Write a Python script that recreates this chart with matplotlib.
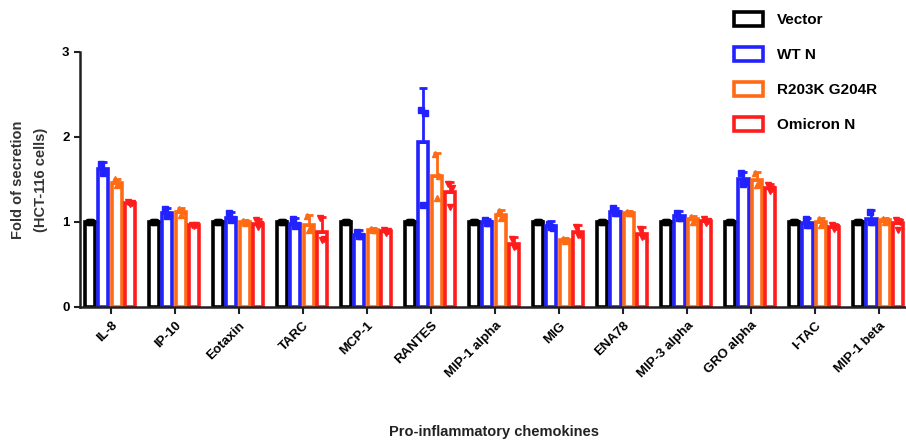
import numpy as np
import matplotlib.pyplot as plt
from matplotlib.patches import Patch

plt.rcParams['font.family'] = ['Liberation Sans', 'DejaVu Sans']
plt.rcParams['font.weight'] = 'bold'

chemokines = ['IL-8', 'IP-10', 'Eotaxin', 'TARC', 'MCP-1', 'RANTES', 'MIP-1 alpha',
              'MIG', 'ENA78', 'MIP-3 alpha', 'GRO alpha', 'I-TAC', 'MIP-1 beta']
groups = ['Vector', 'WT N', 'R203K G204R', 'Omicron N']

# mean fold of secretion per group
vector_mean = [1.0] * 13
wt_mean = [1.62, 1.10, 1.05, 0.98, 0.85, 1.94, 1.00, 0.95, 1.12, 1.07, 1.50, 0.99, 1.04]
mut_mean = [1.46, 1.12, 1.00, 0.97, 0.91, 1.54, 1.08, 0.79, 1.11, 1.03, 1.49, 1.00, 1.02]
omi_mean = [1.22, 0.96, 0.98, 0.88, 0.89, 1.35, 0.74, 0.88, 0.86, 1.01, 1.40, 0.94, 0.99]

# upper SD
vector_sd = [0.0] * 13
wt_sd = [0.08, 0.07, 0.07, 0.07, 0.05, 0.64, 0.04, 0.06, 0.05, 0.06, 0.09, 0.06, 0.10]
mut_sd = [0.05, 0.04, 0.02, 0.11, 0.02, 0.27, 0.06, 0.02, 0.02, 0.04, 0.10, 0.05, 0.03]
omi_sd = [0.03, 0.02, 0.06, 0.18, 0.03, 0.12, 0.08, 0.08, 0.08, 0.03, 0.05, 0.04, 0.05]

# replicate values
vector_pts = [[1.0, 1.0, 1.0]] * 13
wt_pts = [[1.68, 1.60, 1.58], [1.15, 1.08, 1.07], [1.10, 1.03, 1.02], [1.03, 0.96, 0.95],
          [0.88, 0.84, 0.83], [2.32, 2.28, 1.20], [1.02, 0.99, 0.99], [0.98, 0.93, 0.94],
          [1.16, 1.10, 1.10], [1.11, 1.05, 1.05], [1.58, 1.47, 1.45], [1.04, 0.97, 0.96],
          [1.12, 1.00, 1.00]]
mut_pts = [[1.50, 1.45, 1.43], [1.15, 1.13, 1.08], [1.01, 1.00, 0.99], [1.07, 0.93, 0.91],
           [0.92, 0.91, 0.90], [1.80, 1.54, 1.28], [1.13, 1.06, 1.05], [0.80, 0.79, 0.78],
           [1.12, 1.11, 1.10], [1.06, 1.03, 1.00], [1.58, 1.46, 1.43], [1.03, 1.00, 0.97],
           [1.04, 1.02, 1.00]]
omi_pts = [[1.23, 1.22, 1.21], [0.97, 0.96, 0.95], [1.02, 0.98, 0.94], [1.05, 0.80, 0.79],
           [0.91, 0.89, 0.87], [1.45, 1.40, 1.18], [0.80, 0.72, 0.70], [0.94, 0.85, 0.85],
           [0.92, 0.84, 0.82], [1.03, 1.01, 0.99], [1.44, 1.39, 1.37], [0.96, 0.94, 0.92],
           [1.02, 1.00, 0.90]]

means = [vector_mean, wt_mean, mut_mean, omi_mean]
sds = [vector_sd, wt_sd, mut_sd, omi_sd]
pts = [vector_pts, wt_pts, mut_pts, omi_pts]
colors = ['#000000', '#2222ff', '#ff6a14', '#ff1c1c']
markers = ['o', 's', '^', 'v']
offsets = [-0.33, -0.12, 0.09, 0.30]

fig = plt.figure(figsize=(9.06, 4.44), dpi=100)
ax = fig.add_axes([0.0883, 0.3086, 0.9117, 0.5743])
x = np.arange(len(chemokines))

for k in range(4):
    xs = x + offsets[k]
    ax.bar(xs, means[k], width=0.16, facecolor='white', edgecolor=colors[k],
           linewidth=2.6, zorder=2)
    ax.errorbar(xs, means[k], yerr=[np.zeros(13), sds[k]], fmt='none',
                ecolor=colors[k], elinewidth=2, capsize=3, capthick=2, zorder=3)
    for i in range(13):
        ax.plot(xs[i] + np.array([-0.03, 0.03, 0.0]), pts[k][i], linestyle='none',
                marker=markers[k], markersize=4.5, color=colors[k], zorder=4)

ax.set_xlim(-0.484, 12.42)
ax.set_ylim(0, 3)
ax.set_yticks([0, 1, 2, 3])
ax.set_xticks(x)
ax.set_xticklabels(chemokines, rotation=45, ha='right', rotation_mode='anchor',
                   fontsize=9.5, fontweight='bold')
ax.tick_params(axis='y', labelsize=9.5, width=1.5, length=4, color='#231f20')
ax.tick_params(axis='x', width=1.5, length=5, color='#231f20', pad=4)
for s in ['top', 'right']:
    ax.spines[s].set_visible(False)
for s in ['left', 'bottom']:
    ax.spines[s].set_linewidth(1.8)
    ax.spines[s].set_color('#231f20')

ax.set_ylabel('Fold of secretion\n(HCT-116 cells)', fontsize=10.5, fontweight='bold',
              color='#333333', labelpad=10, linespacing=1.8)
fig.text(0.545, 0.017, 'Pro-inflammatory chemokines', ha='center', fontsize=10.5,
         fontweight='bold', color='#222222')

handles = [Patch(facecolor='white', edgecolor=c, linewidth=2.6) for c in colors]
fig.legend(handles, groups, loc='upper left', bbox_to_anchor=(0.795, 1.003), frameon=False,
           handlelength=1.9, handleheight=1.0, labelspacing=1.3,
           handletextpad=0.9, prop={'size': 11})

fig.savefig('out.png', dpi=100)
